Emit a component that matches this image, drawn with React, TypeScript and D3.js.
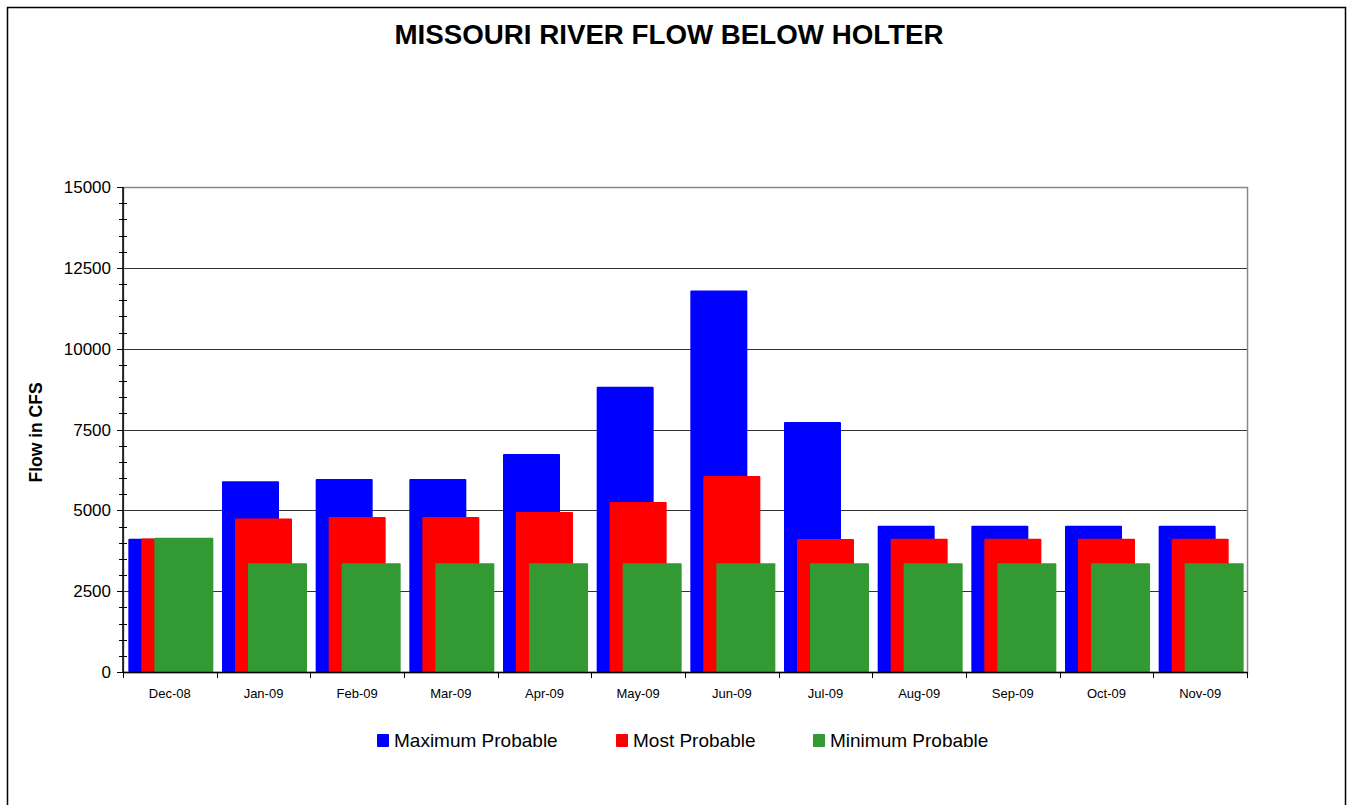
import { useEffect, useRef } from 'react'
import * as d3 from 'd3'

const months = ['Dec-08', 'Jan-09', 'Feb-09', 'Mar-09', 'Apr-09', 'May-09', 'Jun-09', 'Jul-09', 'Aug-09', 'Sep-09', 'Oct-09', 'Nov-09']
const maxProbable = [4120, 5900, 5970, 5970, 6740, 8820, 11800, 7730, 4520, 4520, 4520, 4520]
const mostProbable = [4130, 4750, 4790, 4790, 4950, 5260, 6060, 4110, 4120, 4120, 4120, 4120]
const minProbable = [4150, 3360, 3360, 3360, 3360, 3360, 3360, 3360, 3360, 3360, 3360, 3360]
const yTicks = [0, 2500, 5000, 7500, 10000, 12500, 15000]

const seriesList = [
  { name: 'Maximum Probable', values: maxProbable, color: '#0000FF' },
  { name: 'Most Probable', values: mostProbable, color: '#FF0000' },
  { name: 'Minimum Probable', values: minProbable, color: '#339933' },
]

export default function App() {
  const svgRef = useRef<SVGSVGElement>(null)

  useEffect(() => {
    if (!svgRef.current) return
    const svg = d3.select(svgRef.current)
    svg.selectAll('*').remove()

    const W = 1351
    const H = 805
    const left = 123
    const right = 1247
    const top = 187
    const bottom = 672
    const font = 'Arial, "Liberation Sans", sans-serif'

    svg.attr('width', W).attr('height', H)

    // outer chart border
    svg.append('rect')
      .attr('x', 7.5).attr('y', 7.5)
      .attr('width', 1338).attr('height', 820)
      .attr('fill', 'white').attr('stroke', '#000').attr('stroke-width', 1.5)

    svg.append('text')
      .attr('x', 669).attr('y', 44)
      .attr('text-anchor', 'middle')
      .attr('font-family', font).attr('font-weight', 'bold').attr('font-size', '27.5px')
      .attr('textLength', 549).attr('lengthAdjust', 'spacingAndGlyphs')
      .text('MISSOURI RIVER FLOW BELOW HOLTER')

    const x = d3.scaleBand<string>().domain(months).range([left, right]).padding(0)
    const y = d3.scaleLinear().domain([0, 15000]).range([bottom, top])

    // gridlines
    yTicks.filter((t) => t > 0).forEach((t) => {
      svg.append('line')
        .attr('x1', left).attr('x2', right)
        .attr('y1', Math.round(y(t)) + 0.5).attr('y2', Math.round(y(t)) + 0.5)
        .attr('stroke', '#333').attr('stroke-width', 1)
    })

    // plot area border (right/top)
    svg.append('rect')
      .attr('x', left + 0.5).attr('y', top + 0.5)
      .attr('width', right - left).attr('height', bottom - top)
      .attr('fill', 'none').attr('stroke', '#888').attr('stroke-width', 1.5)

    // bars, overlapped like Excel
    const bw = 57
    const step = 13
    const span = bw + step * (seriesList.length - 1)
    const offset = (x.bandwidth() - span) / 2
    seriesList.forEach((s, si) => {
      svg.append('g').selectAll('rect')
        .data(s.values)
        .join('rect')
        .attr('x', (_, i) => (x(months[i]) ?? 0) + offset + si * step)
        .attr('y', (d) => y(d))
        .attr('width', si === 2 ? bw + 2 : bw)
        .attr('height', (d) => bottom - y(d))
        .attr('rx', 1)
        .attr('fill', s.color)
    })

    // y axis
    const yAxis = svg.append('g')
    yAxis.append('line')
      .attr('x1', left).attr('x2', left).attr('y1', top).attr('y2', bottom)
      .attr('stroke', '#000').attr('stroke-width', 1.5)
    d3.range(0, 15001, 500).forEach((t) => {
      const yy = Math.round(y(t)) + 0.5
      const major = t % 2500 === 0
      yAxis.append('line')
        .attr('x1', major ? left - 6 : left - 4).attr('x2', major ? left : left + 4)
        .attr('y1', yy).attr('y2', yy)
        .attr('stroke', '#000').attr('stroke-width', 1)
    })
    yTicks.forEach((t) => {
      yAxis.append('text')
        .attr('x', left - 12).attr('y', y(t) + 6)
        .attr('text-anchor', 'end')
        .attr('font-family', font).attr('font-size', '17px')
        .text(String(t))
    })

    // x axis
    const xAxis = svg.append('g')
    xAxis.append('line')
      .attr('x1', left).attr('x2', right).attr('y1', bottom + 0.5).attr('y2', bottom + 0.5)
      .attr('stroke', '#000').attr('stroke-width', 1.5)
    months.forEach((m, i) => {
      const bx = Math.round(left + i * x.step()) + 0.5
      xAxis.append('line')
        .attr('x1', bx).attr('x2', bx).attr('y1', bottom).attr('y2', bottom + 6)
        .attr('stroke', '#000')
      xAxis.append('text')
        .attr('x', (x(m) ?? 0) + x.bandwidth() / 2).attr('y', 698)
        .attr('text-anchor', 'middle')
        .attr('font-family', font).attr('font-size', '13px')
        .text(m)
    })
    xAxis.append('line')
      .attr('x1', right + 0.5).attr('x2', right + 0.5).attr('y1', bottom).attr('y2', bottom + 6)
      .attr('stroke', '#000')

    // y label
    svg.append('text')
      .attr('transform', `translate(42,${(top + bottom) / 2 + 3}) rotate(-90)`)
      .attr('text-anchor', 'middle')
      .attr('font-family', font).attr('font-weight', 'bold').attr('font-size', '17.5px')
      .text('Flow in CFS')

    // legend
    const legendX = [377, 616, 813]
    seriesList.forEach((s, i) => {
      svg.append('rect')
        .attr('x', legendX[i]).attr('y', 734)
        .attr('width', 12).attr('height', 13)
        .attr('rx', 1)
        .attr('fill', s.color)
      svg.append('text')
        .attr('x', legendX[i] + 17).attr('y', 747)
        .attr('font-family', font).attr('font-size', '19px')
        .text(s.name)
    })
  }, [])

  return (
    <div style={{ position: 'absolute', left: 0, top: 0 }}>
      <svg ref={svgRef} style={{ display: 'block' }} />
    </div>
  )
}
